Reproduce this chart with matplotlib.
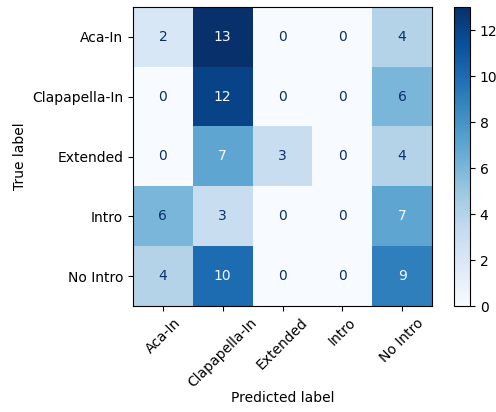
import numpy as np
import matplotlib
matplotlib.use("Agg")
import matplotlib.pyplot as plt

labels = ["Aca-In", "Clapapella-In", "Extended", "Intro", "No Intro"]
cm = np.array([
    [2, 13, 0, 0, 4],
    [0, 12, 0, 0, 6],
    [0, 7, 3, 0, 4],
    [6, 3, 0, 0, 7],
    [4, 10, 0, 0, 9],
])

dpi = 100
fig = plt.figure(figsize=(496 / dpi, 412 / dpi), dpi=dpi)
ax = fig.add_axes([133 / 496, 1 - 306 / 412, 299 / 496, 299 / 412])
cax = fig.add_axes([454 / 496, 1 - 306 / 412, 16 / 496, 299 / 412])

cmap = plt.get_cmap("Blues")
im = ax.imshow(cm, interpolation="nearest", cmap=cmap, aspect="auto")
cmap_min, cmap_max = im.cmap(0), im.cmap(1.0)
thresh = (cm.max() + cm.min()) / 2.0
for i in range(cm.shape[0]):
    for j in range(cm.shape[1]):
        color = cmap_max if cm[i, j] < thresh else cmap_min
        ax.text(j, i, format(cm[i, j], "d"), ha="center", va="center", color=color, fontsize=10)

fig.colorbar(im, cax=cax)
ax.set_xticks(np.arange(len(labels)))
ax.set_yticks(np.arange(len(labels)))
ax.set_xticklabels(labels, rotation=45, ha="center", rotation_mode="default")
ax.set_yticklabels(labels)
ax.set_xlabel("Predicted label", labelpad=1)
ax.set_ylabel("True label")
ax.set_ylim(len(labels) - 0.5, -0.5)

fig.savefig("out.png", dpi=dpi)
